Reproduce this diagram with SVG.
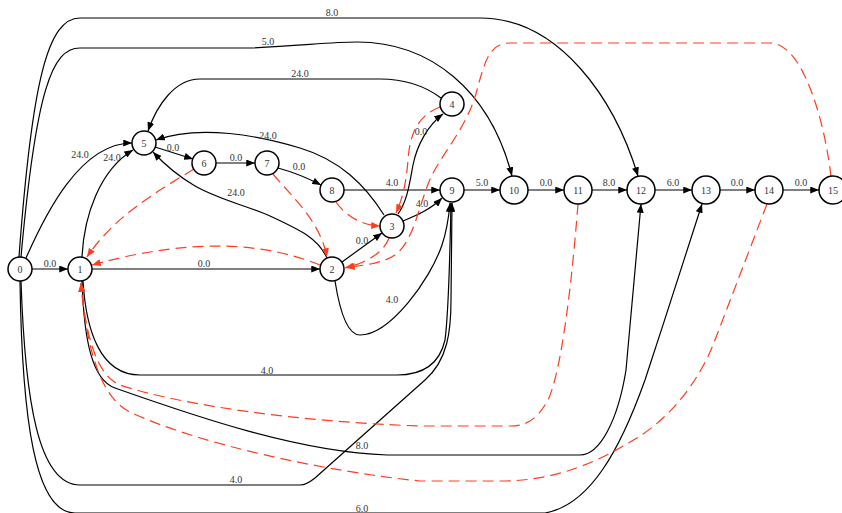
<svg xmlns="http://www.w3.org/2000/svg" width="842" height="513" viewBox="0 0 842 513">
<style>
.e{fill:none;stroke:#000;stroke-width:1.2}
.d{fill:none;stroke:#ff3c1e;stroke-width:1.2;stroke-dasharray:11,6}
.n circle{fill:#fff;stroke:#000;stroke-width:1.5}
text{font-family:"Liberation Serif","Times New Roman",serif;font-size:10px;fill:#333;text-anchor:middle}
</style>
<defs>
<marker id="ab" viewBox="0 0 10 8" refX="10" refY="4" markerWidth="9" markerHeight="7" markerUnits="userSpaceOnUse" orient="auto"><path d="M0,0 L10,4 L0,8 z" fill="#000"/></marker>
<marker id="ar" viewBox="0 0 10 8" refX="10" refY="4" markerWidth="9" markerHeight="7" markerUnits="userSpaceOnUse" orient="auto"><path d="M0,0 L10,4 L0,8 z" fill="#ff3c1e"/></marker>
</defs>
<rect width="842" height="513" fill="#fff"/>
<g id="edges">
<!-- black edges -->
<path class="e" marker-end="url(#ab)" d="M32,269 L68,269"/>
<text x="50" y="267">0.0</text>
<path class="e" marker-end="url(#ab)" d="M92,269 L320,269"/>
<text x="204" y="267">0.0</text>
<path class="e" marker-end="url(#ab)" d="M342,262 L382,233"/>
<text x="362" y="244">0.0</text>
<path class="e" marker-end="url(#ab)" d="M403,221 C415,216 430,210 442,198"/>
<text x="422" y="207">4.0</text>
<path class="e" marker-end="url(#ab)" d="M398,214 C408,200 410,180 413,165 C417,145 428,125 443,114"/>
<text x="421" y="135">0.0</text>
<path class="e" marker-end="url(#ab)" d="M155,147 L193,159"/>
<text x="173" y="151">0.0</text>
<path class="e" marker-end="url(#ab)" d="M216,163 L255,163"/>
<text x="236" y="161">0.0</text>
<path class="e" marker-end="url(#ab)" d="M278,168 Q300,174 321,185"/>
<text x="299" y="170">0.0</text>
<path class="e" marker-end="url(#ab)" d="M344,190 L440,190"/>
<text x="392" y="186">4.0</text>
<path class="e" marker-end="url(#ab)" d="M464,190 L500,190"/>
<text x="482" y="186">5.0</text>
<path class="e" marker-end="url(#ab)" d="M528,190 L564,190"/>
<text x="546" y="186">0.0</text>
<path class="e" marker-end="url(#ab)" d="M592,190 L627,190"/>
<text x="609" y="186">8.0</text>
<path class="e" marker-end="url(#ab)" d="M655,190 L692,190"/>
<text x="673" y="186">6.0</text>
<path class="e" marker-end="url(#ab)" d="M720,190 L755,190"/>
<text x="737" y="186">0.0</text>
<path class="e" marker-end="url(#ab)" d="M783,190 L819,190"/>
<text x="801" y="186">0.0</text>
<!-- 0->5 -->
<path class="e" marker-end="url(#ab)" d="M26,258 C45,215 80,143 132,143"/>
<text x="80" y="158">24.0</text>
<!-- 1->5 -->
<path class="e" marker-end="url(#ab)" d="M82,257 C84,215 100,170 133,150"/>
<text x="112" y="161">24.0</text>
<!-- 2->5 -->
<path class="e" marker-end="url(#ab)" d="M327,258 C318,238 300,230 270,216 C245,205 220,200 195,186 C178,176 165,165 153,152"/>
<text x="236" y="196">24.0</text>
<!-- 3->5 -->
<path class="e" marker-end="url(#ab)" d="M384,215 C365,185 340,160 300,148 C260,136 200,124 156,140"/>
<text x="268" y="139">24.0</text>
<!-- 4->5 -->
<path class="e" marker-end="url(#ab)" d="M441,98 C425,86 405,79 380,79 L200,79 C175,79 157,105 148,131"/>
<text x="300" y="77">24.0</text>
<!-- 0->10 -->
<path class="e" marker-end="url(#ab)" d="M21,257 C36,90 52,48 80,48 L250,48 C300,46 330,42 357,42 C430,42 490,90 512,176"/>
<text x="268" y="45">5.0</text>
<!-- 0->12 -->
<path class="e" marker-end="url(#ab)" d="M19,257 C32,80 48,18 80,18 L480,18 C560,18 615,100 638,176"/>
<text x="332" y="16">8.0</text>
<!-- 0->9 -->
<path class="e" marker-end="url(#ab)" d="M21,281 C25,400 38,485 80,485 L300,485 C305,485 310,482 315,478 L425,380 C448,360 451,330 451,300 L452,203"/>
<text x="236" y="483">4.0</text>
<!-- 1->9 -->
<path class="e" marker-end="url(#ab)" d="M83,281 C86,330 100,375 140,375 L397,375 C425,375 440,362 445,340 C449,310 450,250 451,203"/>
<text x="267" y="374">4.0</text>
<!-- 2->9 -->
<path class="e" marker-end="url(#ab)" d="M335,281 C338,300 345,335 360,335 C390,335 430,280 442,245 C447,230 449,215 450,203"/>
<text x="392" y="303">4.0</text>
<!-- 1->12 -->
<path class="e" marker-end="url(#ab)" d="M82,281 C84,340 92,380 115,388 C200,418 300,452 387,455 L580,455 C600,455 618,420 626,370 L641,204"/>
<text x="362" y="449">8.0</text>
<!-- 0->13 -->
<path class="e" marker-end="url(#ab)" d="M20,281 C22,420 35,513 75,513 L545,513 C590,505 620,450 645,380 C665,320 690,240 702,204"/>
<text x="362" y="512">6.0</text>
<!-- dashed red edges -->
<path class="d" marker-end="url(#ar)" d="M194,169 C160,190 115,215 87,257"/>
<path class="d" marker-end="url(#ar)" d="M320,265 C270,245 200,235 92,265"/>
<path class="d" marker-end="url(#ar)" d="M273,174 C290,195 320,220 327,257"/>
<path class="d" marker-end="url(#ar)" d="M336,202 C345,215 360,225 380,226"/>
<path class="d" marker-end="url(#ar)" d="M440,107 C420,115 410,130 408,160 C406,185 402,200 396,213"/>
<path class="d" marker-end="url(#ar)" d="M389,238 C385,250 370,262 345,268"/>
<path class="d" marker-end="url(#ar)" d="M831,177 C826,130 805,43 770,43 L510,43 C490,43 485,60 477,90 C468,125 445,150 432,175 C418,205 415,240 395,255 C385,262 365,266 346,267"/>
<path class="d" marker-end="url(#ar)" d="M578,204 C572,280 562,370 548,400 C538,418 528,426 510,426 L420,426 C300,422 180,405 120,385 C95,375 85,330 81,283"/>
<path class="d" marker-end="url(#ar)" d="M767,204 L715,340 C700,380 670,420 630,442 C600,460 560,480 505,481 L420,481 C330,472 200,445 130,412 C95,395 85,330 81,283"/>
</g>
<g id="node0" class="n"><circle cx="20" cy="269" r="12"/><text x="20" y="272.5">0</text></g>
<g id="node1" class="n"><circle cx="80" cy="269" r="12"/><text x="80" y="272.5">1</text></g>
<g id="node2" class="n"><circle cx="332" cy="269" r="12"/><text x="332" y="272.5">2</text></g>
<g id="node3" class="n"><circle cx="392" cy="226" r="12"/><text x="392" y="229.5">3</text></g>
<g id="node4" class="n"><circle cx="452" cy="104" r="12"/><text x="452" y="107.5">4</text></g>
<g id="node5" class="n"><circle cx="144" cy="143" r="12"/><text x="144" y="146.5">5</text></g>
<g id="node6" class="n"><circle cx="204" cy="163" r="12"/><text x="204" y="166.5">6</text></g>
<g id="node7" class="n"><circle cx="267" cy="163" r="12"/><text x="267" y="166.5">7</text></g>
<g id="node8" class="n"><circle cx="332" cy="190" r="12"/><text x="332" y="193.5">8</text></g>
<g id="node9" class="n"><circle cx="452" cy="190" r="12"/><text x="452" y="193.5">9</text></g>
<g id="node10" class="n"><circle cx="514" cy="190" r="14"/><text x="514" y="193.5">10</text></g>
<g id="node11" class="n"><circle cx="578" cy="190" r="14"/><text x="578" y="193.5">11</text></g>
<g id="node12" class="n"><circle cx="641" cy="190" r="14"/><text x="641" y="193.5">12</text></g>
<g id="node13" class="n"><circle cx="706" cy="190" r="14"/><text x="706" y="193.5">13</text></g>
<g id="node14" class="n"><circle cx="769" cy="190" r="14"/><text x="769" y="193.5">14</text></g>
<g id="node15" class="n"><circle cx="833" cy="190" r="14"/><text x="833" y="193.5">15</text></g>
</svg>
